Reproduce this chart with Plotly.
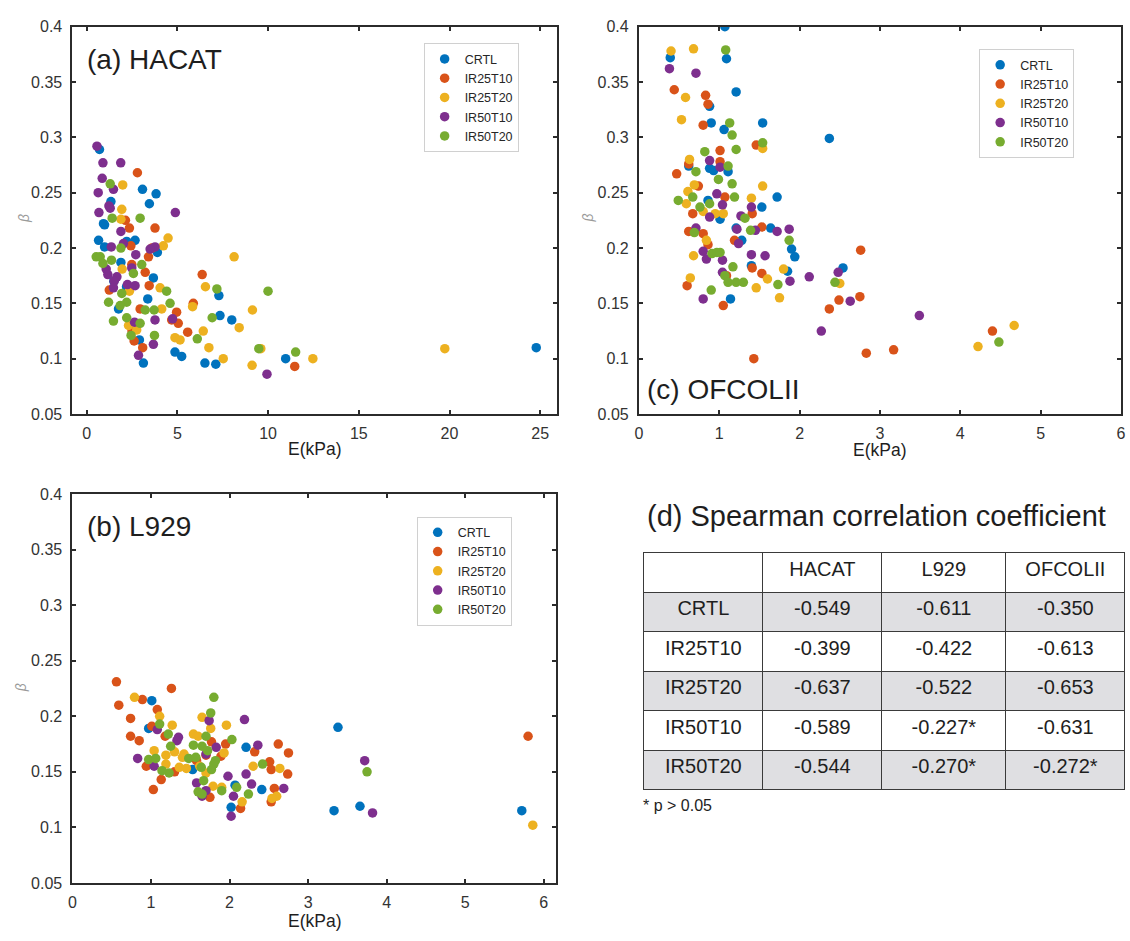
import plotly.graph_objects as go

W, H = 1130, 941

GROUPS = ["CRTL", "IR25T10", "IR25T20", "IR50T10", "IR50T20"]
COLORS = ["#0072BD", "#D95319", "#EDB120", "#7E2F8E", "#77AC30"]

# ---------------- (a) HACAT : E (kPa) and beta ----------------
HACAT_CRTL_E = [0.71, 3.08, 3.83, 3.46, 1.34, 0.93, 0.99, 0.66, 2.67, 2.21, 0.99, 3.90, 1.89, 3.68,
                7.29, 3.37, 1.76, 7.35, 8.0, 2.91, 4.87, 5.24, 3.13, 6.52, 7.12, 10.97, 24.78, 1.5, 2.2]
HACAT_CRTL_B = [0.289, 0.253, 0.249, 0.240, 0.242, 0.222, 0.221, 0.207, 0.207, 0.206, 0.201, 0.196, 0.187, 0.173,
                0.157, 0.154, 0.145, 0.139, 0.135, 0.117, 0.106, 0.102, 0.096, 0.096, 0.095, 0.100, 0.110, 0.170, 0.165]
HACAT_IR25T10_E = [2.8, 2.14, 3.77, 2.36, 2.44, 3.41, 2.49, 3.23, 6.37, 3.45, 1.25, 5.88, 2.95, 4.96,
                   4.69, 5.05, 5.57, 2.62, 3.09, 11.47, 3.6, 2.5]
HACAT_IR25T10_B = [0.268, 0.225, 0.218, 0.218, 0.202, 0.192, 0.185, 0.178, 0.176, 0.166, 0.162, 0.150, 0.145, 0.142,
                   0.135, 0.132, 0.124, 0.116, 0.110, 0.093, 0.200, 0.125]
HACAT_IR25T20_E = [1.99, 1.94, 1.89, 4.49, 4.23, 8.13, 1.96, 4.05, 6.55, 2.36, 5.84, 4.14, 2.31, 2.76,
                   6.43, 8.41, 4.87, 5.15, 6.74, 7.53, 9.12, 9.14, 9.6, 12.47, 19.74]
HACAT_IR25T20_B = [0.257, 0.235, 0.226, 0.209, 0.202, 0.192, 0.181, 0.164, 0.165, 0.161, 0.147, 0.145, 0.130, 0.126,
                   0.125, 0.128, 0.119, 0.117, 0.110, 0.100, 0.094, 0.144, 0.109, 0.100, 0.109]
HACAT_IR50T10_E = [0.57, 0.9, 1.88, 0.86, 1.48, 0.64, 1.23, 0.68, 4.89, 1.30, 1.89, 2.03, 1.36, 3.77, 3.5,
                   2.71, 2.49, 1.08, 1.17, 1.67, 1.52, 1.48, 2.25, 2.67, 3.77, 4.74, 2.64, 3.68, 2.86, 9.94]
HACAT_IR50T10_B = [0.292, 0.277, 0.277, 0.263, 0.253, 0.250, 0.238, 0.232, 0.232, 0.236, 0.215, 0.204, 0.201, 0.201, 0.199,
                   0.194, 0.182, 0.181, 0.176, 0.174, 0.170, 0.164, 0.167, 0.166, 0.135, 0.136, 0.133, 0.113, 0.103, 0.086]
HACAT_IR50T20_E = [1.3, 2.95, 1.41, 1.89, 0.53, 0.75, 0.90, 1.37, 3.04, 2.58, 7.18, 10.0, 4.41, 1.94, 1.21,
                   2.21, 1.85, 4.6, 3.23, 3.72, 6.92, 1.48, 2.95, 2.21, 2.45, 3.74, 6.10, 9.49, 11.52]
HACAT_IR50T20_B = [0.258, 0.227, 0.227, 0.200, 0.192, 0.192, 0.186, 0.189, 0.185, 0.177, 0.163, 0.161, 0.161, 0.159, 0.151,
                   0.151, 0.148, 0.150, 0.144, 0.144, 0.137, 0.134, 0.132, 0.137, 0.121, 0.121, 0.118, 0.109, 0.106]

# ---------------- (c) OFCOLII ----------------
OFCOLII_CRTL_E = [1.07, 0.39, 1.09, 1.21, 0.88, 0.90, 1.54, 1.06, 2.37, 0.62, 0.88, 0.93, 1.11, 1.72, 0.86,
                  1.53, 1.01, 1.64, 1.21, 1.28, 1.90, 1.94, 1.40, 2.54, 1.85, 1.14]
OFCOLII_CRTL_B = [0.400, 0.372, 0.371, 0.341, 0.328, 0.313, 0.313, 0.307, 0.299, 0.274, 0.272, 0.270, 0.269, 0.246, 0.243,
                  0.237, 0.226, 0.218, 0.218, 0.207, 0.199, 0.192, 0.184, 0.182, 0.179, 0.154]
OFCOLII_IR25T10_E = [0.44, 0.83, 0.86, 0.80, 1.46, 1.01, 0.62, 1.01, 0.47, 0.74, 1.07, 0.67, 1.41, 0.62, 0.80,
                     0.86, 1.53, 1.19, 2.76, 1.41, 1.53, 1.09, 0.60, 1.05, 2.37, 2.49, 2.75, 1.43, 2.83, 3.17, 4.40]
OFCOLII_IR25T10_B = [0.343, 0.338, 0.330, 0.311, 0.293, 0.288, 0.276, 0.278, 0.267, 0.256, 0.246, 0.231, 0.231, 0.215, 0.213,
                     0.203, 0.219, 0.207, 0.198, 0.182, 0.177, 0.175, 0.166, 0.148, 0.145, 0.153, 0.156, 0.100, 0.105, 0.108, 0.125]
OFCOLII_IR25T20_E = [0.40, 0.68, 0.58, 0.53, 1.54, 0.63, 0.69, 1.54, 0.61, 1.40, 0.59, 0.80, 0.95, 1.05, 0.84,
                     0.68, 1.80, 1.60, 0.64, 2.50, 1.46, 1.75, 4.22, 4.67]
OFCOLII_IR25T20_B = [0.378, 0.380, 0.336, 0.316, 0.290, 0.280, 0.257, 0.256, 0.251, 0.245, 0.240, 0.233, 0.231, 0.231, 0.207,
                     0.193, 0.181, 0.172, 0.173, 0.168, 0.164, 0.155, 0.111, 0.130]
OFCOLII_IR50T10_E = [0.38, 0.71, 0.88, 1.01, 0.97, 1.04, 1.40, 0.88, 1.27, 0.71, 1.22, 1.45, 1.72, 1.87, 1.24,
                     0.80, 0.84, 1.04, 1.40, 1.57, 2.48, 1.04, 2.12, 1.88, 0.80, 2.63, 2.27, 3.49]
OFCOLII_IR50T10_B = [0.362, 0.358, 0.279, 0.273, 0.249, 0.239, 0.237, 0.228, 0.229, 0.218, 0.217, 0.216, 0.215, 0.217, 0.204,
                     0.197, 0.190, 0.189, 0.194, 0.193, 0.178, 0.178, 0.174, 0.170, 0.154, 0.152, 0.125, 0.139]
OFCOLII_IR50T20_E = [1.08, 1.13, 1.16, 1.54, 1.21, 0.82, 1.11, 0.71, 0.99, 1.16, 0.67, 1.19, 0.49, 0.88, 0.76,
                     1.32, 0.69, 1.39, 1.87, 0.91, 0.97, 1.01, 1.17, 1.07, 1.11, 1.21, 1.30, 1.73, 2.44, 0.90, 4.48]
OFCOLII_IR50T20_B = [0.379, 0.313, 0.302, 0.295, 0.289, 0.287, 0.274, 0.269, 0.262, 0.258, 0.246, 0.246, 0.243, 0.240, 0.237,
                     0.227, 0.214, 0.216, 0.207, 0.195, 0.196, 0.196, 0.183, 0.175, 0.169, 0.169, 0.169, 0.167, 0.169, 0.162, 0.115]

# ---------------- (b) L929 ----------------
L929_CRTL_E = [1.01, 0.97, 2.21, 1.53, 2.07, 2.41, 2.02, 3.38, 3.33, 3.66, 5.72]
L929_CRTL_B = [0.214, 0.189, 0.172, 0.152, 0.138, 0.134, 0.118, 0.190, 0.115, 0.119, 0.115]
L929_IR25T10_E = [0.56, 1.26, 0.59, 0.89, 0.74, 1.08, 1.01, 0.74, 0.85, 1.18, 1.77, 1.95, 2.62, 2.75, 2.32,
                  1.89, 0.94, 2.51, 2.53, 2.74, 1.13, 1.03, 1.75, 2.14, 2.57, 2.53, 1.30, 1.58, 1.70, 5.80]
L929_IR25T10_B = [0.231, 0.225, 0.210, 0.215, 0.198, 0.206, 0.191, 0.182, 0.178, 0.182, 0.177, 0.175, 0.175, 0.167, 0.168,
                  0.164, 0.155, 0.159, 0.152, 0.148, 0.143, 0.134, 0.127, 0.117, 0.135, 0.123, 0.150, 0.160, 0.165, 0.182]
L929_IR25T20_E = [0.79, 1.11, 1.27, 1.65, 1.76, 1.96, 1.54, 1.60, 1.04, 1.30, 1.42, 1.93, 1.19, 1.40, 1.19,
                  1.36, 1.45, 1.62, 1.70, 2.30, 2.64, 1.79, 1.90, 2.16, 2.60, 2.54, 5.86]
L929_IR25T20_B = [0.217, 0.200, 0.192, 0.199, 0.189, 0.192, 0.184, 0.182, 0.169, 0.168, 0.166, 0.167, 0.165, 0.163, 0.157,
                  0.154, 0.153, 0.155, 0.149, 0.155, 0.153, 0.137, 0.136, 0.123, 0.128, 0.126, 0.102]
L929_IR50T10_E = [1.08, 1.74, 2.19, 1.35, 1.33, 1.83, 2.36, 1.70, 0.83, 1.04, 2.21, 1.98, 1.58, 1.70, 1.65,
                  2.28, 2.05, 2.02, 2.69, 3.72, 3.82]
L929_IR50T10_B = [0.188, 0.196, 0.197, 0.181, 0.178, 0.172, 0.174, 0.166, 0.162, 0.155, 0.148, 0.146, 0.140, 0.133, 0.128,
                  0.139, 0.128, 0.110, 0.135, 0.160, 0.113]
L929_IR50T20_E = [1.80, 1.11, 1.76, 1.22, 1.70, 2.03, 1.25, 1.54, 1.65, 1.72, 0.97, 1.06, 1.48, 1.57, 1.82,
                  1.23, 1.14, 1.64, 1.80, 1.77, 2.42, 1.67, 1.90, 1.60, 1.65, 2.09, 2.24, 3.75]
L929_IR50T20_B = [0.217, 0.193, 0.203, 0.184, 0.182, 0.179, 0.173, 0.174, 0.173, 0.169, 0.161, 0.162, 0.162, 0.163, 0.160,
                  0.149, 0.151, 0.154, 0.157, 0.152, 0.157, 0.142, 0.133, 0.132, 0.130, 0.136, 0.130, 0.150]

# ---------------- (d) Spearman correlation table ----------------
TABLE_HEADER = ["", "HACAT", "L929", "OFCOLII"]
TABLE_ROWS = GROUPS
RHO_HACAT = ["-0.549", "-0.399", "-0.637", "-0.589", "-0.544"]
RHO_L929 = ["-0.611", "-0.422", "-0.522", "-0.227*", "-0.270*"]
RHO_OFCOLII = ["-0.350", "-0.613", "-0.653", "-0.631", "-0.272*"]

PANELS = [
    # (axis suffix, legend id, [(E, beta) per group])
    ("", "legend", [(HACAT_CRTL_E, HACAT_CRTL_B), (HACAT_IR25T10_E, HACAT_IR25T10_B),
                    (HACAT_IR25T20_E, HACAT_IR25T20_B), (HACAT_IR50T10_E, HACAT_IR50T10_B),
                    (HACAT_IR50T20_E, HACAT_IR50T20_B)]),
    ("2", "legend2", [(OFCOLII_CRTL_E, OFCOLII_CRTL_B), (OFCOLII_IR25T10_E, OFCOLII_IR25T10_B),
                      (OFCOLII_IR25T20_E, OFCOLII_IR25T20_B), (OFCOLII_IR50T10_E, OFCOLII_IR50T10_B),
                      (OFCOLII_IR50T20_E, OFCOLII_IR50T20_B)]),
    ("3", "legend3", [(L929_CRTL_E, L929_CRTL_B), (L929_IR25T10_E, L929_IR25T10_B),
                      (L929_IR25T20_E, L929_IR25T20_B), (L929_IR50T10_E, L929_IR50T10_B),
                      (L929_IR50T20_E, L929_IR50T20_B)]),
]

FONT = "Liberation Sans, Arial, Helvetica, sans-serif"
AX_COLOR = "#2b2b2b"
TXT_COLOR = "#1e1e1e"


def px(x):
    return x / W


def py(y):
    return 1 - y / H


fig = go.Figure()

for suffix, leg, series in PANELS:
    for name, color, (e, b) in zip(GROUPS, COLORS, series):
        fig.add_trace(go.Scatter(
            x=e, y=b, mode="markers", name=name,
            marker=dict(color=color, size=9.5, line=dict(width=0)),
            xaxis="x" + suffix, yaxis="y" + suffix, legend=leg,
        ))

# Spearman table
GRAY = "#dfdfe2"
row_fill = [GRAY if i % 2 == 0 else "white" for i in range(len(TABLE_ROWS))]
fig.add_trace(go.Table(
    domain=dict(x=[px(645), 1.0], y=[py(800), py(555)]),
    columnwidth=[120, 120, 125, 120],
    header=dict(values=TABLE_HEADER, height=39.5, fill_color="white",
                line=dict(color="#3a3a3a", width=1),
                font=dict(family=FONT, size=20, color=TXT_COLOR), align="center"),
    cells=dict(values=[TABLE_ROWS, RHO_HACAT, RHO_L929, RHO_OFCOLII], height=39.5,
               fill_color=[row_fill] * 4,
               line=dict(color="#3a3a3a", width=1),
               font=dict(family=FONT, size=20, color=TXT_COLOR), align="center"),
))


def axis_common(standoff):
    return dict(showline=True, linecolor=AX_COLOR, linewidth=2, mirror="ticks",
                ticks="inside", ticklen=4, tickwidth=1.5, tickcolor=AX_COLOR,
                showgrid=False, zeroline=False, ticklabelstandoff=standoff,
                ticklabeloverflow="allow",
                tickfont=dict(family=FONT, size=16, color="#333333"))


YTICKS = [0.05, 0.1, 0.15, 0.2, 0.25, 0.3, 0.35, 0.4]
YTEXT = ["0.05", "0.1", "0.15", "0.2", "0.25", "0.3", "0.35", "0.4"]

layout = dict(
    width=W, height=H, margin=dict(l=0, r=0, t=0, b=0),
    paper_bgcolor="white", plot_bgcolor="white", showlegend=True,
    font=dict(family=FONT, color=AX_COLOR),
    xaxis=dict(domain=[px(69), px(557)], range=[-0.78, 25.9], tickvals=[0, 5, 10, 15, 20, 25],
               anchor="y", **axis_common(4)),
    yaxis=dict(domain=[py(413.5), py(19)], range=[0.05, 0.4], tickvals=YTICKS, ticktext=YTEXT,
               anchor="x", **axis_common(5)),
    xaxis2=dict(domain=[px(640), px(1126)], range=[0, 6], tickvals=[0, 1, 2, 3, 4, 5, 6],
                anchor="y2", **axis_common(4)),
    yaxis2=dict(domain=[py(413.5), py(19)], range=[0.05, 0.4], tickvals=YTICKS, ticktext=YTEXT,
                anchor="x2", **axis_common(5)),
    xaxis3=dict(domain=[px(69), px(556)], range=[0, 6.15], tickvals=[0, 1, 2, 3, 4, 5, 6],
                anchor="y3", **axis_common(4)),
    yaxis3=dict(domain=[py(891), py(495)], range=[0.05, 0.4], tickvals=YTICKS, ticktext=YTEXT,
                anchor="x3", **axis_common(5)),
)

legend_style = dict(bgcolor="white", bordercolor="#d0d0d0", borderwidth=1,
                    font=dict(family=FONT, size=12.5, color="#262626"),
                    xanchor="left", yanchor="top", itemclick=False, tracegroupgap=0)
layout["legend"] = dict(x=px(423), y=py(36), **legend_style)
layout["legend2"] = dict(x=px(983), y=py(42), **legend_style)
layout["legend3"] = dict(x=px(416), y=py(518), **legend_style)

fig.update_layout(**layout)

annotations = [
    # panel titles
    dict(text="(a) HACAT", x=px(82), y=py(52), xanchor="left", yanchor="middle", font_size=28),
    dict(text="(b) L929", x=px(82), y=py(528), xanchor="left", yanchor="middle", font_size=28),
    dict(text="(c) OFCOLII", x=px(646), y=py(389), xanchor="left", yanchor="middle", font_size=28),
    dict(text="(d) Spearman correlation coefficient", x=px(646), y=py(517), xanchor="left",
         yanchor="middle", font_size=29),
    dict(text="* p > 0.05", x=px(642), y=py(812), xanchor="left", yanchor="middle", font_size=16),
    # axis titles
    dict(text="E(kPa)", x=px(313), y=py(449), xanchor="center", yanchor="middle", font_size=17.5),
    dict(text="E(kPa)", x=px(883), y=py(450), xanchor="center", yanchor="middle", font_size=17.5),
    dict(text="E(kPa)", x=px(313), y=py(930), xanchor="center", yanchor="middle", font_size=17.5),
    dict(text="<i>β</i>", x=px(20), y=py(214), textangle=-90, xanchor="center", yanchor="middle",
         font=dict(size=14, color="#9a9a9a")),
    dict(text="<i>β</i>", x=px(589), y=py(214), textangle=-90, xanchor="center", yanchor="middle",
         font=dict(size=14, color="#9a9a9a")),
    dict(text="<i>β</i>", x=px(18), y=py(692), textangle=-90, xanchor="center", yanchor="middle",
         font=dict(size=14, color="#9a9a9a")),
]
for a in annotations:
    a.setdefault("font", {})
    if "font_size" in a:
        a["font"] = dict(family=FONT, size=a.pop("font_size"), color=TXT_COLOR)
    else:
        a["font"].setdefault("family", FONT)
    a.update(xref="paper", yref="paper", showarrow=False)
fig.update_layout(annotations=annotations)

fig.write_html("out.html")
